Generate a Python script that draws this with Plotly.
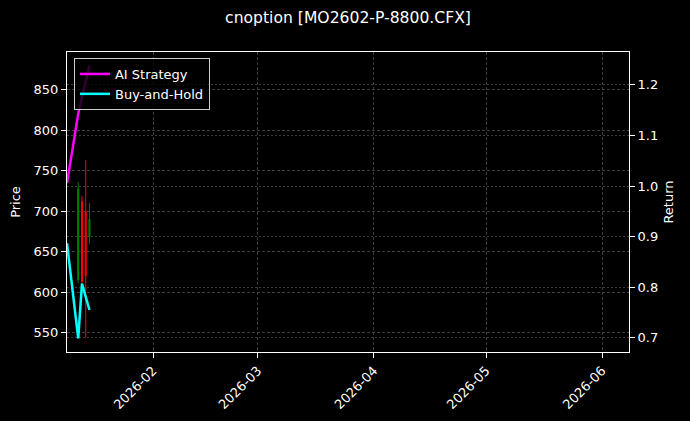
import plotly.graph_objects as go

# ---- data ----
candle_dates = ["2026-01-12", "2026-01-13", "2026-01-14", "2026-01-15"]
open_px = [615, 712, 700, 668]
high_px = [736, 719, 763, 710]
low_px = [611, 610, 544, 660]
close_px = [728, 613, 620, 690]

line_dates = ["2026-01-09", "2026-01-12", "2026-01-13", "2026-01-14", "2026-01-15"]
ai_strategy = [1.006, 1.143, 1.175, 1.207, 1.238]
buy_and_hold = [0.887, 0.699, 0.807, 0.779, 0.755]

price_ticks = [550, 600, 650, 700, 750, 800, 850]
return_ticks = [0.7, 0.8, 0.9, 1.0, 1.1, 1.2]
month_ticks = ["2026-02-01", "2026-03-01", "2026-04-01", "2026-05-01", "2026-06-01"]
month_labels = ["2026-02", "2026-03", "2026-04", "2026-05", "2026-06"]

FONT = "DejaVu Sans"
GRID = "#3c3c3c"
DAY_MS = 86400000

fig = go.Figure()

# candle bodies and wicks, built from the OHLC arrays
for is_up, color in [(True, "green"), (False, "red")]:
    idx = [i for i in range(len(candle_dates)) if (close_px[i] >= open_px[i]) == is_up]
    wx, wy = [], []
    for i in idx:
        wx += [candle_dates[i], candle_dates[i], None]
        wy += [low_px[i], high_px[i], None]
    fig.add_trace(go.Scatter(
        x=wx, y=wy, mode="lines", line=dict(color=color, width=1),
        showlegend=False, hoverinfo="skip", yaxis="y",
    ))
    fig.add_trace(go.Bar(
        x=[candle_dates[i] for i in idx],
        y=[close_px[i] - open_px[i] for i in idx],
        base=[open_px[i] for i in idx],
        width=0.55 * DAY_MS,
        marker=dict(color=color, line=dict(width=0)),
        showlegend=False, hoverinfo="skip", yaxis="y",
    ))

fig.add_trace(go.Scatter(
    x=line_dates, y=ai_strategy, mode="lines", name="AI Strategy",
    line=dict(color="#ff00ff", width=2.5), yaxis="y2",
))
fig.add_trace(go.Scatter(
    x=line_dates, y=buy_and_hold, mode="lines", name="Buy-and-Hold",
    line=dict(color="#00ffff", width=2.5), yaxis="y2",
))

fig.update_layout(
    width=690, height=421,
    margin=dict(l=66.5, r=60.6, t=52, b=69),
    paper_bgcolor="black", plot_bgcolor="black",
    font=dict(family=FONT, size=13, color="white"),
    title=dict(text="cnoption [MO2602-P-8800.CFX]", x=0.5, xref="paper",
               y=1 - 18 / 421, yanchor="middle", yref="container",
               font=dict(size=15.6, color="white", family=FONT)),
    showlegend=True, barmode="overlay",
    legend=dict(x=0.0124, y=0.98, xanchor="left", yanchor="top",
                bgcolor="rgba(0,0,0,0.8)", bordercolor="#cccccc", borderwidth=1,
                font=dict(size=13, color="white", family=FONT),
                itemwidth=30, tracegroupgap=0),
    xaxis=dict(
        type="date", automargin=False,
        range=["2026-01-09", "2026-06-08 04:20"],
        tickmode="array", tickvals=month_ticks, ticktext=month_labels,
        tickangle=-45,
        showline=True, linecolor="white", linewidth=1, mirror=True,
        ticks="outside", ticklen=5, tickcolor="white", tickwidth=1,
        showgrid=True, gridcolor=GRID, gridwidth=0.7, griddash="3px,2px",
        zeroline=False,
        tickfont=dict(size=13, color="white"),
    ),
    yaxis=dict(
        automargin=False,
        range=[526.2, 896.5],
        tickmode="array", tickvals=price_ticks,
        title=dict(text="Price", standoff=10, font=dict(size=13, color="white")),
        showline=True, linecolor="white", linewidth=1,
        ticks="outside", ticklen=5, tickcolor="white", tickwidth=1,
        showgrid=True, gridcolor=GRID, gridwidth=0.7, griddash="3px,2px",
        zeroline=False,
    ),
    yaxis2=dict(
        automargin=False,
        range=[0.672, 1.265], overlaying="y", side="right",
        tickmode="array", tickvals=return_ticks, tickformat=".1f",
        title=dict(text="Return", standoff=6, font=dict(size=13, color="white")),
        showline=True, linecolor="white", linewidth=1,
        ticks="outside", ticklen=5, tickcolor="white", tickwidth=1,
        showgrid=True, gridcolor=GRID, gridwidth=0.7, griddash="2px,2px",
        zeroline=False,
    ),
)

fig.write_html(
    "out.html",
    config={"displayModeBar": False},
    post_script="document.body.style.margin='0';document.body.style.background='black';",
)
